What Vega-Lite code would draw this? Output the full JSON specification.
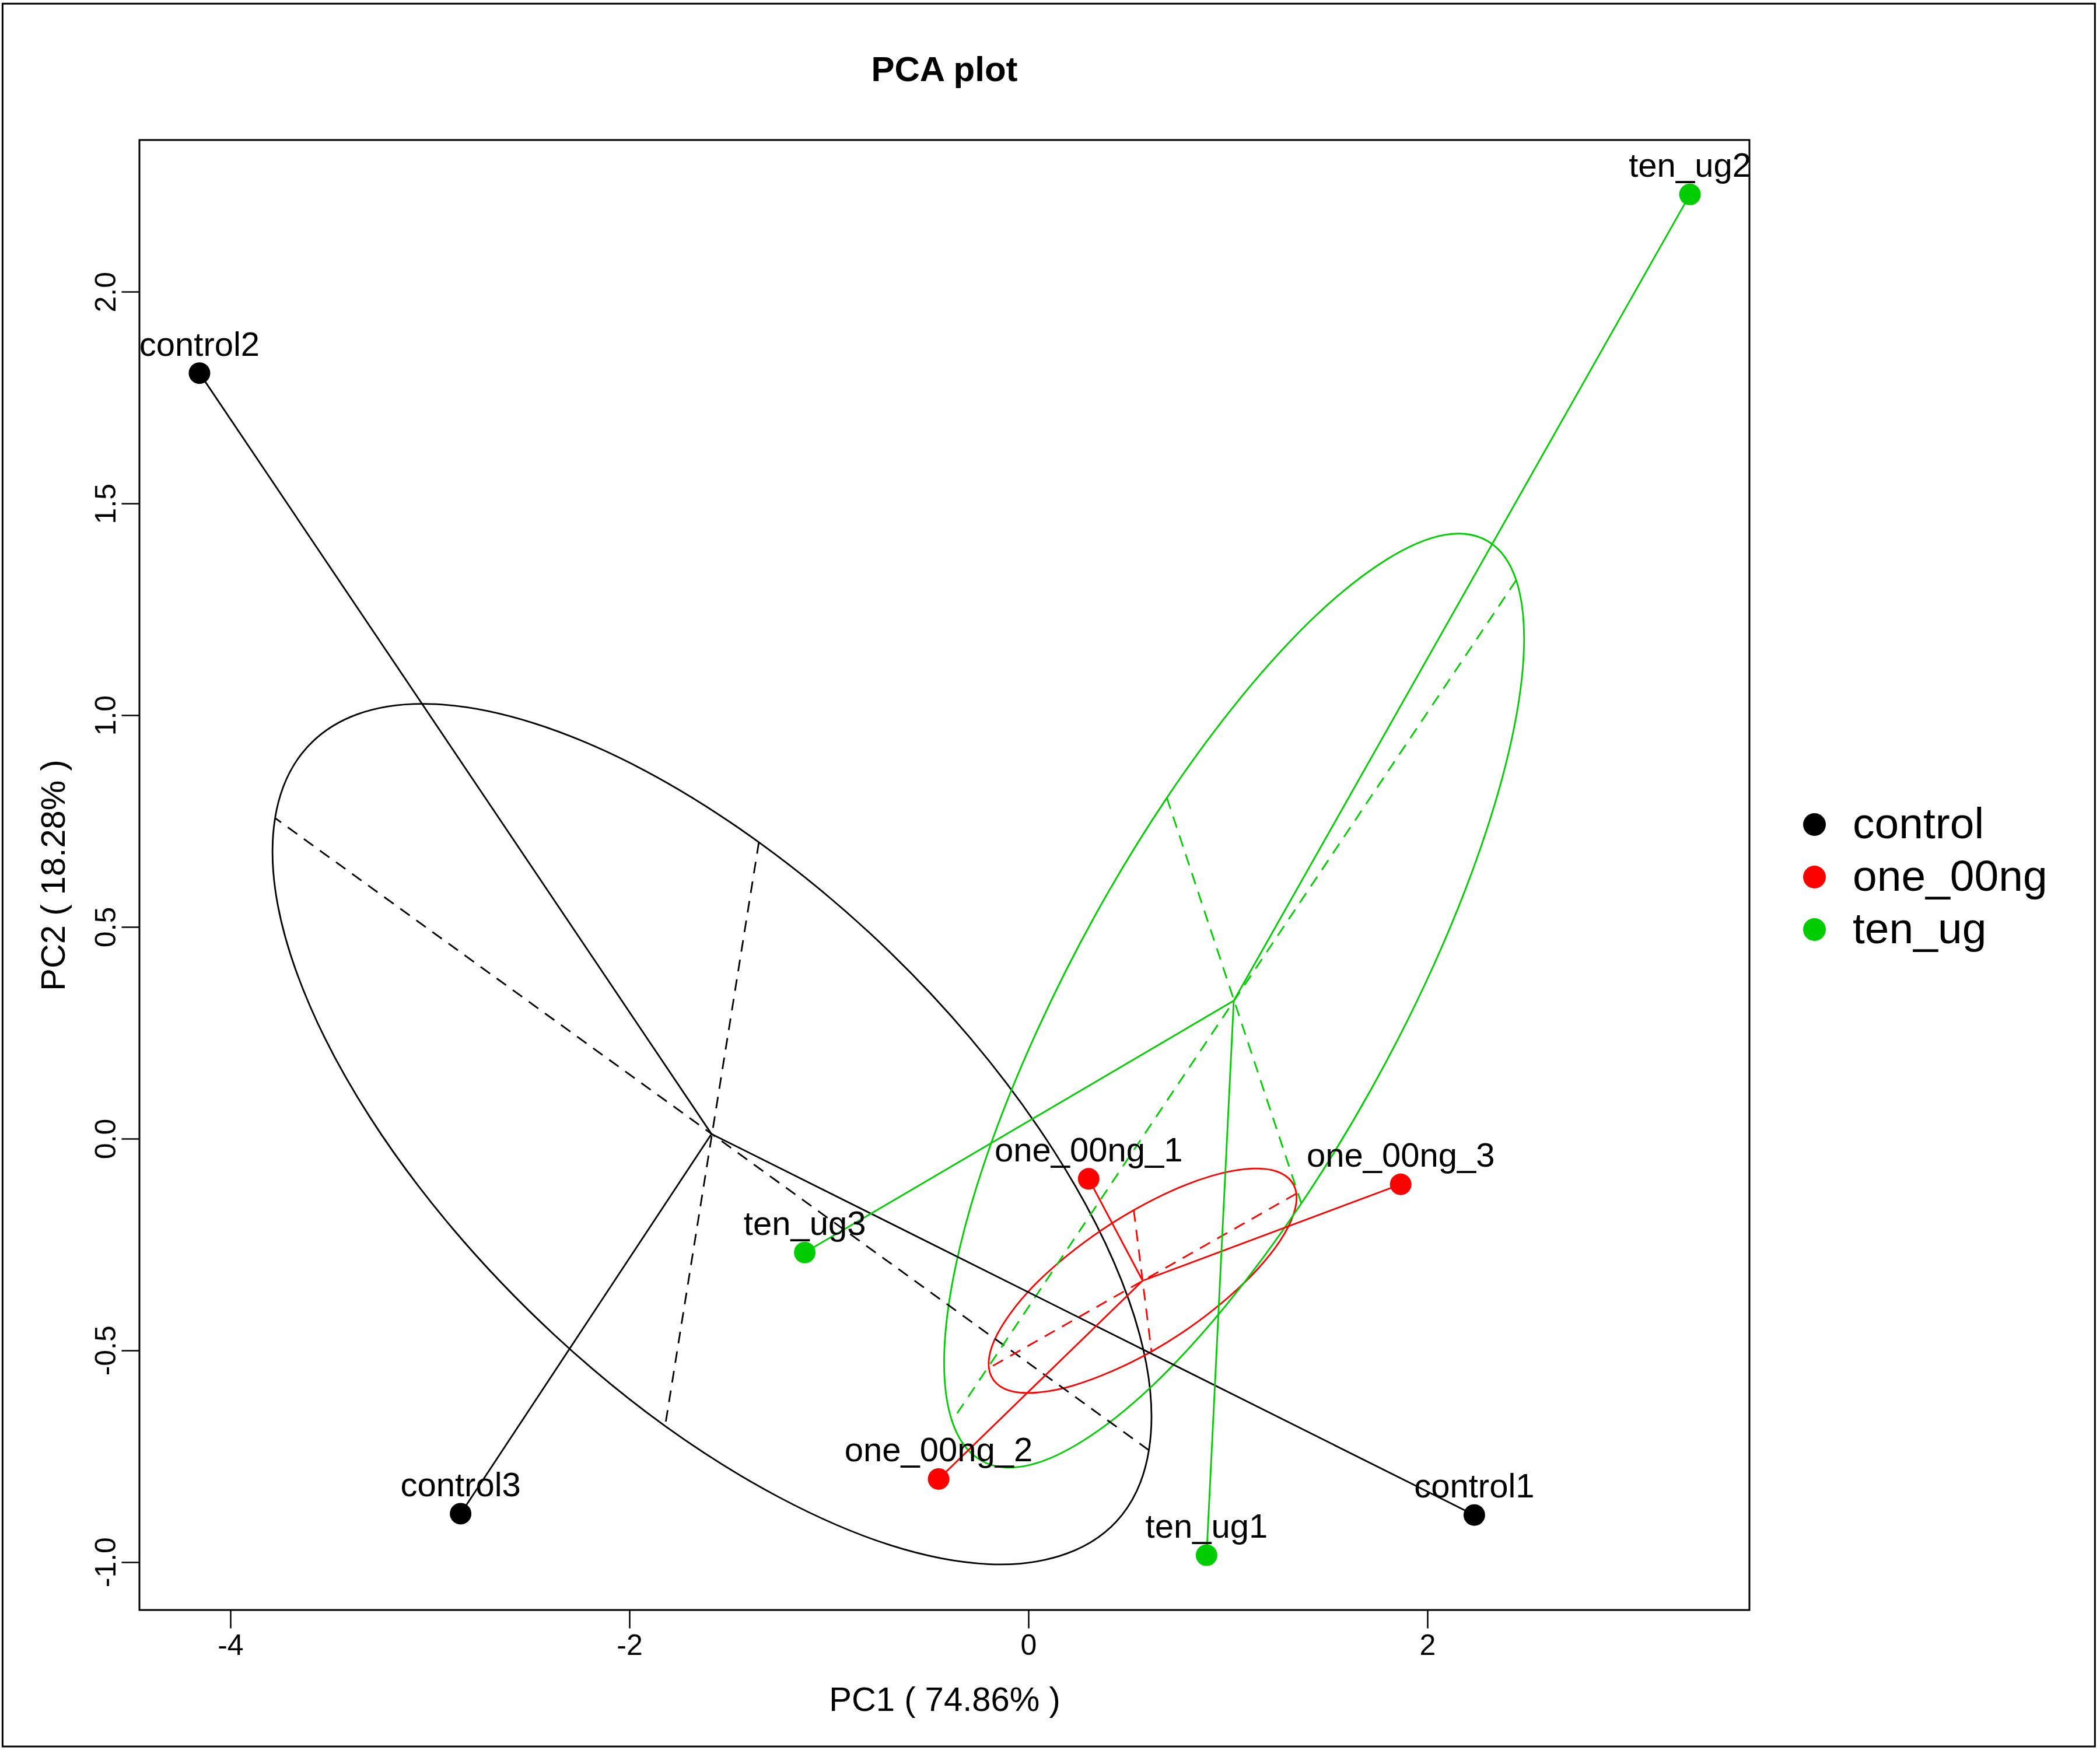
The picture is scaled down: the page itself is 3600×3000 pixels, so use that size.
{
  "$schema": "https://vega.github.io/schema/vega-lite/v6.json",
  "width": 2760,
  "height": 2520,
  "autosize": {"type": "none"},
  "padding": {"left": 239, "top": 240, "right": 601, "bottom": 240},
  "background": "white",
  "title": {
    "text": "PCA plot",
    "fontSize": 60,
    "fontWeight": "bold",
    "anchor": "middle",
    "frame": "group",
    "baseline": "alphabetic",
    "offset": 0,
    "dy": 194,
    "color": "black"
  },
  "config": {
    "font": "Liberation Sans",
    "view": {"stroke": "black", "strokeWidth": 3},
    "axis": {
      "domain": false,
      "grid": false,
      "ticks": true,
      "tickSize": 31,
      "tickWidth": 2.5,
      "tickColor": "black",
      "labelColor": "black",
      "labelFontSize": 50,
      "labelOverlap": false,
      "labelFlush": false,
      "titleColor": "black",
      "titleFontSize": 58,
      "titleFontWeight": "normal"
    }
  },
  "datasets": {
    "samples": [
      {"name": "control1", "group": "control", "x": 2.235, "y": -0.889},
      {"name": "control2", "group": "control", "x": -4.155, "y": 1.808},
      {"name": "control3", "group": "control", "x": -2.846, "y": -0.886},
      {"name": "one_00ng_1", "group": "one_00ng", "x": 0.302, "y": -0.095},
      {"name": "one_00ng_2", "group": "one_00ng", "x": -0.450, "y": -0.804},
      {"name": "one_00ng_3", "group": "one_00ng", "x": 1.866, "y": -0.108},
      {"name": "ten_ug1", "group": "ten_ug", "x": 0.893, "y": -0.984},
      {"name": "ten_ug2", "group": "ten_ug", "x": 3.316, "y": 2.230},
      {"name": "ten_ug3", "group": "ten_ug", "x": -1.121, "y": -0.269}
    ],
    "frame": [
      {"x": -5.142, "x2": 5.346, "y": 2.6806, "y2": -1.4357}
    ],
    "ellipses": [
      {"group": "control", "i": 0, "x": 0.604, "y": -0.736},
      {"group": "control", "i": 1, "x": 0.591, "y": -0.532},
      {"group": "control", "i": 2, "x": 0.428, "y": -0.291},
      {"group": "control", "i": 3, "x": 0.129, "y": -0.030},
      {"group": "control", "i": 4, "x": -0.287, "y": 0.235},
      {"group": "control", "i": 5, "x": -0.792, "y": 0.484},
      {"group": "control", "i": 6, "x": -1.351, "y": 0.700},
      {"group": "control", "i": 7, "x": -1.926, "y": 0.870},
      {"group": "control", "i": 8, "x": -2.478, "y": 0.981},
      {"group": "control", "i": 9, "x": -2.969, "y": 1.026},
      {"group": "control", "i": 10, "x": -3.365, "y": 1.002},
      {"group": "control", "i": 11, "x": -3.641, "y": 0.910},
      {"group": "control", "i": 12, "x": -3.776, "y": 0.757},
      {"group": "control", "i": 13, "x": -3.763, "y": 0.553},
      {"group": "control", "i": 14, "x": -3.600, "y": 0.312},
      {"group": "control", "i": 15, "x": -3.301, "y": 0.051},
      {"group": "control", "i": 16, "x": -2.885, "y": -0.213},
      {"group": "control", "i": 17, "x": -2.380, "y": -0.462},
      {"group": "control", "i": 18, "x": -1.821, "y": -0.679},
      {"group": "control", "i": 19, "x": -1.246, "y": -0.848},
      {"group": "control", "i": 20, "x": -0.694, "y": -0.960},
      {"group": "control", "i": 21, "x": -0.203, "y": -1.005},
      {"group": "control", "i": 22, "x": 0.193, "y": -0.980},
      {"group": "control", "i": 23, "x": 0.469, "y": -0.889},
      {"group": "one_00ng", "i": 0, "x": 1.343, "y": -0.130},
      {"group": "one_00ng", "i": 1, "x": 1.305, "y": -0.094},
      {"group": "one_00ng", "i": 2, "x": 1.218, "y": -0.074},
      {"group": "one_00ng", "i": 3, "x": 1.086, "y": -0.072},
      {"group": "one_00ng", "i": 4, "x": 0.919, "y": -0.088},
      {"group": "one_00ng", "i": 5, "x": 0.729, "y": -0.121},
      {"group": "one_00ng", "i": 6, "x": 0.528, "y": -0.169},
      {"group": "one_00ng", "i": 7, "x": 0.330, "y": -0.228},
      {"group": "one_00ng", "i": 8, "x": 0.149, "y": -0.294},
      {"group": "one_00ng", "i": 9, "x": -0.004, "y": -0.363},
      {"group": "one_00ng", "i": 10, "x": -0.117, "y": -0.431},
      {"group": "one_00ng", "i": 11, "x": -0.183, "y": -0.491},
      {"group": "one_00ng", "i": 12, "x": -0.198, "y": -0.542},
      {"group": "one_00ng", "i": 13, "x": -0.160, "y": -0.578},
      {"group": "one_00ng", "i": 14, "x": -0.072, "y": -0.598},
      {"group": "one_00ng", "i": 15, "x": 0.060, "y": -0.599},
      {"group": "one_00ng", "i": 16, "x": 0.226, "y": -0.583},
      {"group": "one_00ng", "i": 17, "x": 0.416, "y": -0.550},
      {"group": "one_00ng", "i": 18, "x": 0.617, "y": -0.503},
      {"group": "one_00ng", "i": 19, "x": 0.815, "y": -0.444},
      {"group": "one_00ng", "i": 20, "x": 0.997, "y": -0.377},
      {"group": "one_00ng", "i": 21, "x": 1.149, "y": -0.308},
      {"group": "one_00ng", "i": 22, "x": 1.262, "y": -0.241},
      {"group": "one_00ng", "i": 23, "x": 1.328, "y": -0.180},
      {"group": "ten_ug", "i": 0, "x": 2.445, "y": 1.319},
      {"group": "ten_ug", "i": 1, "x": 2.310, "y": 1.409},
      {"group": "ten_ug", "i": 2, "x": 2.087, "y": 1.426},
      {"group": "ten_ug", "i": 3, "x": 1.793, "y": 1.367},
      {"group": "ten_ug", "i": 4, "x": 1.447, "y": 1.238},
      {"group": "ten_ug", "i": 5, "x": 1.072, "y": 1.046},
      {"group": "ten_ug", "i": 6, "x": 0.694, "y": 0.805},
      {"group": "ten_ug", "i": 7, "x": 0.340, "y": 0.532},
      {"group": "ten_ug", "i": 8, "x": 0.033, "y": 0.244},
      {"group": "ten_ug", "i": 9, "x": -0.207, "y": -0.038},
      {"group": "ten_ug", "i": 10, "x": -0.362, "y": -0.295},
      {"group": "ten_ug", "i": 11, "x": -0.422, "y": -0.509},
      {"group": "ten_ug", "i": 12, "x": -0.383, "y": -0.667},
      {"group": "ten_ug", "i": 13, "x": -0.248, "y": -0.757},
      {"group": "ten_ug", "i": 14, "x": -0.025, "y": -0.774},
      {"group": "ten_ug", "i": 15, "x": 0.269, "y": -0.715},
      {"group": "ten_ug", "i": 16, "x": 0.616, "y": -0.586},
      {"group": "ten_ug", "i": 17, "x": 0.990, "y": -0.394},
      {"group": "ten_ug", "i": 18, "x": 1.368, "y": -0.153},
      {"group": "ten_ug", "i": 19, "x": 1.722, "y": 0.120},
      {"group": "ten_ug", "i": 20, "x": 2.030, "y": 0.408},
      {"group": "ten_ug", "i": 21, "x": 2.269, "y": 0.690},
      {"group": "ten_ug", "i": 22, "x": 2.424, "y": 0.947},
      {"group": "ten_ug", "i": 23, "x": 2.484, "y": 1.161}
    ],
    "ellipseAxes": [
      {"group": "control", "axis": "major", "x": 0.604, "y": -0.736, "x2": -3.776, "y2": 0.757},
      {"group": "control", "axis": "minor", "x": -1.351, "y": 0.700, "x2": -1.821, "y2": -0.679},
      {"group": "one_00ng", "axis": "major", "x": 1.343, "y": -0.130, "x2": -0.198, "y2": -0.542},
      {"group": "one_00ng", "axis": "minor", "x": 0.528, "y": -0.169, "x2": 0.617, "y2": -0.503},
      {"group": "ten_ug", "axis": "major", "x": 2.445, "y": 1.319, "x2": -0.383, "y2": -0.667},
      {"group": "ten_ug", "axis": "minor", "x": 0.694, "y": 0.805, "x2": 1.368, "y2": -0.153}
    ]
  },
  "encoding": {
    "x": {
      "type": "quantitative",
      "scale": {"domain": [-4.456, 3.614], "nice": false, "zero": false},
      "axis": {
        "values": [-4, -2, 0, 2],
        "labelExpr": "replace(format(datum.value, 'd'), '\u2212', '-')",
        "labelBaseline": "alphabetic",
        "labelPadding": 45,
        "title": "PC1 ( 74.86% )",
        "titleBaseline": "alphabetic",
        "titleX": 1380,
        "titleY": 172,
        "titleAnchor": "middle"
      }
    },
    "y": {
      "type": "quantitative",
      "scale": {"domain": [-1.1134, 2.3586], "nice": false, "zero": false},
      "axis": {
        "values": [-1, -0.5, 0, 0.5, 1, 1.5, 2],
        "labelExpr": "replace(format(datum.value, '.1f'), '\u2212', '-')",
        "labelAngle": -90,
        "labelAlign": "center",
        "labelBaseline": "alphabetic",
        "labelPadding": 11,
        "title": "PC2 ( 18.28% )",
        "titleAngle": -90,
        "titleAlign": "center",
        "titleBaseline": "alphabetic",
        "titleX": -129,
        "titleY": 1260
      }
    }
  },
  "layer": [
    {
      "data": {"name": "frame"},
      "mark": {"type": "rect", "filled": false, "stroke": "black", "strokeWidth": 3, "fill": null},
      "encoding": {
        "x": {"field": "x"},
        "x2": {"field": "x2"},
        "y": {"field": "y"},
        "y2": {"field": "y2"}
      }
    },
    {
      "mark": {"type": "rule", "color": "black", "strokeWidth": 2.6, "strokeDash": [20, 14]},
      "encoding": {"x": {"datum": 0}}
    },
    {
      "mark": {"type": "rule", "color": "black", "strokeWidth": 2.6, "strokeDash": [20, 14]},
      "encoding": {"y": {"datum": 0}}
    },
    {
      "data": {"name": "ellipses"},
      "mark": {"type": "line", "interpolate": "cardinal-closed", "strokeWidth": 2.8},
      "encoding": {
        "x": {"field": "x"},
        "y": {"field": "y"},
        "order": {"field": "i", "type": "quantitative"},
        "detail": {"field": "group", "type": "nominal"},
        "stroke": {
          "field": "group",
          "type": "nominal",
          "scale": {"range": ["#000000", "#FF0000", "#00CD00"]},
          "legend": null
        }
      }
    },
    {
      "data": {"name": "ellipseAxes"},
      "mark": {"type": "rule", "strokeWidth": 2.8, "strokeDash": [20, 14]},
      "encoding": {
        "x": {"field": "x"},
        "y": {"field": "y"},
        "x2": {"field": "x2"},
        "y2": {"field": "y2"},
        "stroke": {"field": "group", "type": "nominal", "legend": null}
      }
    },
    {
      "data": {"name": "samples"},
      "transform": [
        {"joinaggregate": [{"op": "mean", "field": "x", "as": "cx"}, {"op": "mean", "field": "y", "as": "cy"}], "groupby": ["group"]}
      ],
      "mark": {"type": "rule", "strokeWidth": 2.8},
      "encoding": {
        "x": {"field": "x"},
        "y": {"field": "y"},
        "x2": {"field": "cx"},
        "y2": {"field": "cy"},
        "stroke": {"field": "group", "type": "nominal", "legend": null}
      }
    },
    {
      "data": {"name": "samples"},
      "mark": {"type": "circle", "size": 1369, "opacity": 1},
      "encoding": {
        "x": {"field": "x"},
        "y": {"field": "y"},
        "color": {
          "field": "group",
          "type": "nominal",
          "scale": {"domain": ["control", "one_00ng", "ten_ug"], "range": ["#000000", "#FF0000", "#00CD00"]},
          "legend": {
            "orient": "none",
            "legendX": 2834,
            "legendY": 1136,
            "title": null,
            "padding": 0,
            "symbolType": "circle",
            "symbolSize": 1521,
            "symbolStrokeWidth": 0,
            "labelFontSize": 75,
            "labelColor": "black",
            "labelOffset": 28,
            "labelLimit": 600,
            "rowPadding": 14
          }
        }
      }
    },
    {
      "data": {"name": "samples"},
      "mark": {"type": "text", "fontSize": 58, "align": "center", "baseline": "alphabetic", "dy": -30, "color": "black", "clip": true},
      "encoding": {
        "x": {"field": "x"},
        "y": {"field": "y"},
        "text": {"field": "name"}
      }
    }
  ]
}
